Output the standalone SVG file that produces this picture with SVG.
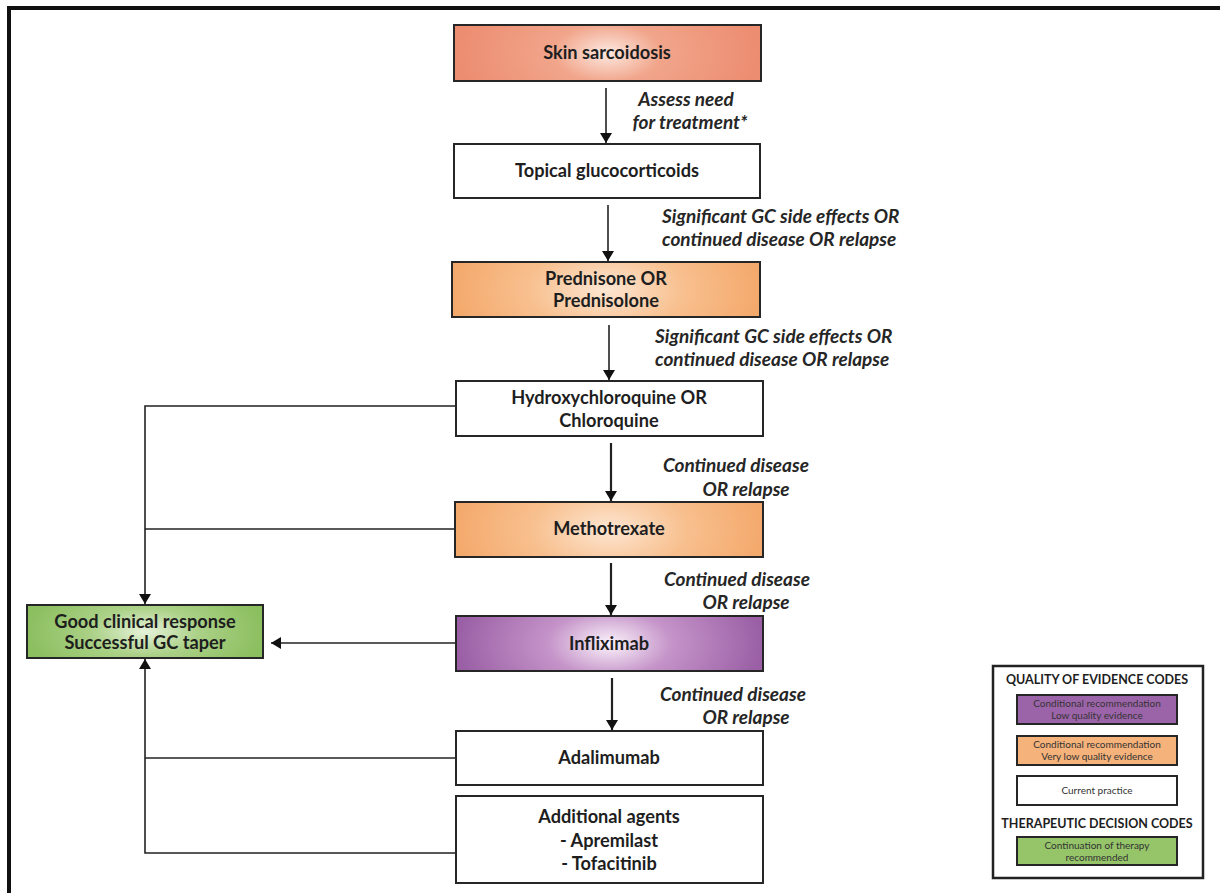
<svg xmlns="http://www.w3.org/2000/svg" width="1220" height="893" viewBox="0 0 1220 893">
<style>
.box{stroke:#262626;stroke-width:2}
.t{font-family:Lato,"Liberation Sans",sans-serif;font-weight:bold;font-size:18.2px;fill:#1e1e1e;text-anchor:middle}
.lab{font-family:Lato,"Liberation Sans",sans-serif;font-weight:bold;font-style:italic;font-size:19px;fill:#262626}
.c{fill:none;stroke:#222;stroke-width:1.6}
.ct{fill:none;stroke:#222;stroke-width:2.2}
.lg{font-family:Lato,"Liberation Sans",sans-serif;font-size:10px;fill:#333;text-anchor:middle}
.lh{font-family:Lato,"Liberation Sans",sans-serif;font-size:12.5px;font-weight:bold;fill:#1e1e1e;text-anchor:middle}
</style>
<defs>
<radialGradient id="gSalmon" cx="0.5" cy="0.5" r="0.5" gradientTransform="translate(0.5,0.5) scale(1,3) translate(-0.5,-0.5)"><stop offset="0" stop-color="#fde9e0"/><stop offset="0.35" stop-color="#f1a58b"/><stop offset="1" stop-color="#ec8c70"/></radialGradient>
<radialGradient id="gOrange" cx="0.5" cy="0.5" r="0.5" gradientTransform="translate(0.5,0.5) scale(1,3) translate(-0.5,-0.5)"><stop offset="0" stop-color="#fde6d2"/><stop offset="0.5" stop-color="#f8c08f"/><stop offset="1" stop-color="#f4a96c"/></radialGradient>
<radialGradient id="gPurple" cx="0.5" cy="0.5" r="0.5" gradientTransform="translate(0.5,0.5) scale(1,3) translate(-0.5,-0.5)"><stop offset="0" stop-color="#fbf3fb"/><stop offset="0.4" stop-color="#c594c9"/><stop offset="1" stop-color="#9a5fa5"/></radialGradient>
<radialGradient id="gGreen" cx="0.5" cy="0.5" r="0.5" gradientTransform="translate(0.5,0.5) scale(1,2) translate(-0.5,-0.5)"><stop offset="0" stop-color="#e6f2da"/><stop offset="0.45" stop-color="#abd187"/><stop offset="1" stop-color="#8cbf60"/></radialGradient>
<marker id="ah" viewBox="0 0 10 12" refX="10" refY="6" markerWidth="10" markerHeight="12" markerUnits="userSpaceOnUse" orient="auto"><path d="M0,0 L10,6 L0,12 z" fill="#111"/></marker>
</defs>
<rect x="0" y="0" width="1220" height="893" fill="#fff"/>
<path d="M9,893 V8 H1220" fill="none" stroke="#111" stroke-width="4"/>

<g id="connectors">
<line class="c" x1="606" y1="88" x2="606" y2="143" marker-end="url(#ah)"/>
<line class="c" x1="608" y1="205" x2="608" y2="261" marker-end="url(#ah)"/>
<line class="c" x1="609" y1="325" x2="609" y2="380" marker-end="url(#ah)"/>
<line class="ct" x1="611" y1="443" x2="611" y2="501" marker-end="url(#ah)"/>
<line class="ct" x1="611" y1="563" x2="611" y2="615" marker-end="url(#ah)"/>
<line class="ct" x1="612" y1="678" x2="612" y2="730" marker-end="url(#ah)"/>
<path class="c" d="M456,406 H145 V604" marker-end="url(#ah)"/>
<line class="c" x1="455" y1="529" x2="145" y2="529"/>
<line class="c" x1="456" y1="643" x2="271" y2="643" marker-end="url(#ah)"/>
<path class="c" d="M456,853 H145 V659" marker-end="url(#ah)"/>
<line class="c" x1="456" y1="758" x2="145" y2="758"/>
<text class="lab" x="686" y="106" text-anchor="middle">Assess need</text>
<text class="lab" x="690" y="129" text-anchor="middle">for treatment*</text>
<text class="lab" x="662" y="223">Significant GC side effects OR</text>
<text class="lab" x="662" y="246">continued disease OR relapse</text>
<text class="lab" x="655" y="343">Significant GC side effects OR</text>
<text class="lab" x="655" y="366">continued disease OR relapse</text>
<text class="lab" x="736" y="472" text-anchor="middle">Continued disease</text>
<text class="lab" x="746" y="496" text-anchor="middle">OR relapse</text>
<text class="lab" x="737" y="586" text-anchor="middle">Continued disease</text>
<text class="lab" x="746" y="609" text-anchor="middle">OR relapse</text>
<text class="lab" x="733" y="701" text-anchor="middle">Continued disease</text>
<text class="lab" x="746" y="724" text-anchor="middle">OR relapse</text>
</g>

<g id="skin"><rect class="box" x="454" y="25" width="307" height="56" fill="url(#gSalmon)"/><text class="t" x="607" y="59">Skin sarcoidosis</text></g>
<g id="topical"><rect class="box" x="454" y="144" width="306" height="54" fill="#fff"/><text class="t" x="607" y="177">Topical glucocorticoids</text></g>
<g id="prednisone"><rect class="box" x="452" y="262" width="308" height="55" fill="url(#gOrange)"/><text class="t" x="606" y="285">Prednisone OR</text><text class="t" x="606" y="307">Prednisolone</text></g>
<g id="hydroxy"><rect class="box" x="456" y="381" width="307" height="55" fill="#fff"/><text class="t" x="609" y="404">Hydroxychloroquine OR</text><text class="t" x="609" y="427">Chloroquine</text></g>
<g id="methotrexate"><rect class="box" x="455" y="502" width="308" height="55" fill="url(#gOrange)"/><text class="t" x="609" y="535">Methotrexate</text></g>
<g id="infliximab"><rect class="box" x="456" y="616" width="307" height="55" fill="url(#gPurple)"/><text class="t" x="609" y="650">Infliximab</text></g>
<g id="adalimumab"><rect class="box" x="456" y="731" width="307" height="54" fill="#fff"/><text class="t" x="609" y="764">Adalimumab</text></g>
<g id="additional"><rect class="box" x="456" y="796" width="307" height="87" fill="#fff"/><text class="t" x="609" y="823">Additional agents</text><text class="t" x="609" y="847">- Apremilast</text><text class="t" x="609" y="870">- Tofacitinib</text></g>
<g id="good"><rect class="box" x="27" y="605" width="236" height="53" fill="url(#gGreen)"/><text class="t" x="145" y="628">Good clinical response</text><text class="t" x="145" y="649">Successful GC taper</text></g>

<g id="legend">
<rect x="993" y="666" width="210" height="212" fill="#fff" stroke="#222" stroke-width="2.5"/>
<text class="lh" x="1097" y="684">QUALITY OF EVIDENCE CODES</text>
<rect class="box" x="1017" y="695" width="160" height="29" fill="#9c64a8"/>
<text class="lg" x="1097" y="707">Conditional recommendation</text><text class="lg" x="1097" y="719">Low quality evidence</text>
<rect class="box" x="1017" y="736" width="160" height="29" fill="#f5b27a"/>
<text class="lg" x="1097" y="748">Conditional recommendation</text><text class="lg" x="1097" y="760">Very low quality evidence</text>
<rect class="box" x="1017" y="776" width="160" height="29" fill="#fff"/>
<text class="lg" x="1097" y="794">Current practice</text>
<text class="lh" x="1097" y="828">THERAPEUTIC DECISION CODES</text>
<rect class="box" x="1017" y="837" width="160" height="28" fill="#95c469"/>
<text class="lg" x="1097" y="849">Continuation of therapy</text><text class="lg" x="1097" y="861">recommended</text>
</g>
</svg>
